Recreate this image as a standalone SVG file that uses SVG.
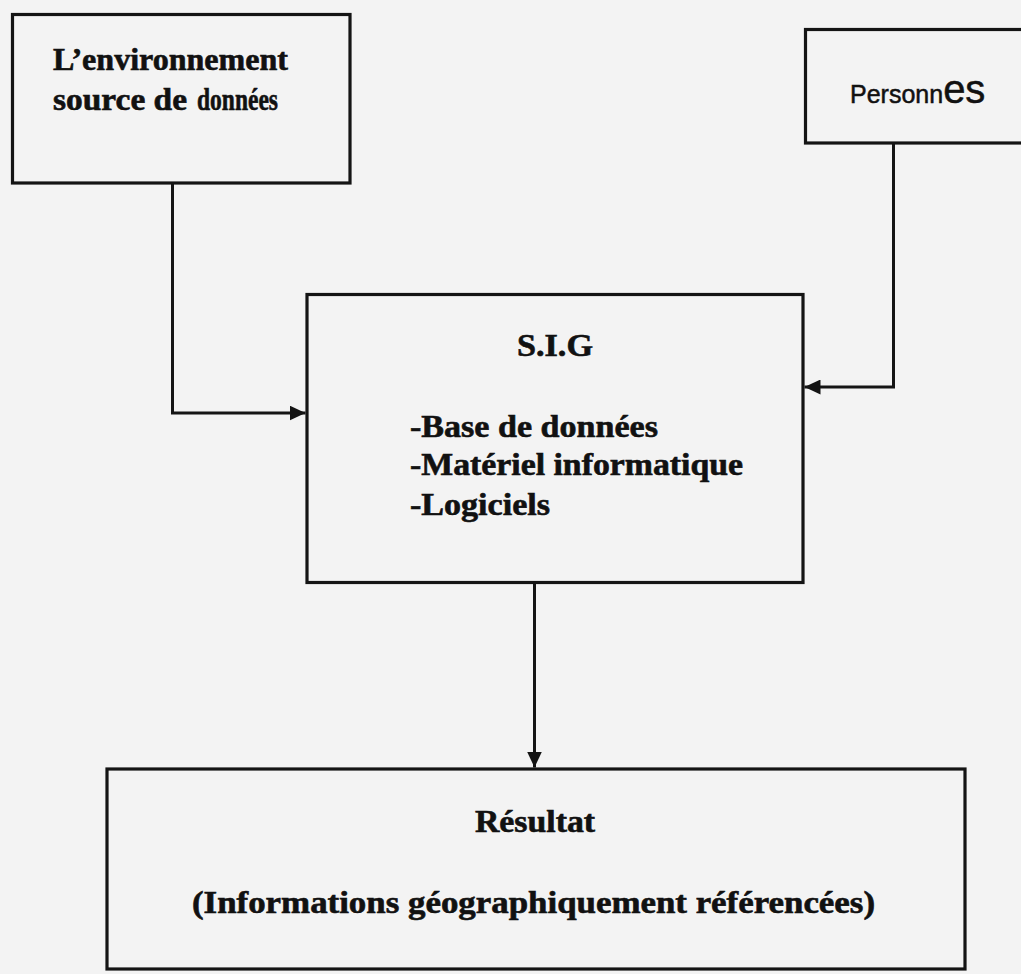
<svg xmlns="http://www.w3.org/2000/svg" width="1021" height="974" viewBox="0 0 1021 974">
  <style>
    .box { fill: none; stroke: #141414; stroke-width: 3.2; }
    .wire { fill: none; stroke: #141414; stroke-width: 3; }
    .serif { font-family: "Liberation Serif", "Times New Roman", serif; font-weight: bold; font-size: 31px; fill: #111; stroke: #111; stroke-width: 0.6; }
    .sans { font-family: "Liberation Sans", Arial, sans-serif; fill: #111; stroke: #111; stroke-width: 0.5; }
  </style>
  <defs>
    <marker id="arrow" markerUnits="userSpaceOnUse" markerWidth="17" markerHeight="15" refX="16" refY="7.5" orient="auto">
      <path d="M0,0 L16,7.5 L0,15 Z" fill="#141414"/>
    </marker>
  </defs>

  <!-- paper -->
  <rect x="0" y="0" width="1021" height="974" fill="#f3f3f3"/>

  <!-- data source environment -->
  <g id="node-environnement">
    <rect class="box" x="12.5" y="14.5" width="337.5" height="168.5"/>
    <text class="serif" x="53" y="70" textLength="235" lengthAdjust="spacingAndGlyphs">L’environnement</text>
    <text class="serif" x="53" y="110" textLength="134" lengthAdjust="spacingAndGlyphs">source de</text>
    <text class="serif" x="197" y="110" font-size="28" textLength="81" lengthAdjust="spacingAndGlyphs">données</text>
  </g>

  <!-- people -->
  <g id="node-personnes">
    <rect class="box" x="805.5" y="29.5" width="230" height="113.5"/>
    <text class="sans" x="850" y="103" font-size="25">Personn<tspan font-size="40">es</tspan></text>
  </g>

  <!-- GIS components -->
  <g id="node-sig">
    <rect class="box" x="307" y="294.5" width="496" height="288"/>
    <text class="serif" x="517" y="356" textLength="76" lengthAdjust="spacingAndGlyphs">S.I.G</text>
    <text class="serif" x="410" y="437" textLength="248" lengthAdjust="spacingAndGlyphs">-Base de données</text>
    <text class="serif" x="410" y="475" textLength="333" lengthAdjust="spacingAndGlyphs">-Matériel informatique</text>
    <text class="serif" x="410" y="515" textLength="140" lengthAdjust="spacingAndGlyphs">-Logiciels</text>
  </g>

  <!-- output -->
  <g id="node-resultat">
    <rect class="box" x="107" y="769" width="858" height="200"/>
    <text class="serif" x="475" y="832" textLength="120" lengthAdjust="spacingAndGlyphs">Résultat</text>
    <text class="serif" x="192" y="913" textLength="683" lengthAdjust="spacingAndGlyphs">(Informations géographiquement référencées)</text>
  </g>

  <!-- connectors -->
  <g id="connectors">
    <path class="wire" d="M172.5,183 V413 H305.5" marker-end="url(#arrow)"/>
    <path class="wire" d="M893.5,143 V387 H804.5" marker-end="url(#arrow)"/>
    <path class="wire" d="M534.5,582.5 V767.5" marker-end="url(#arrow)"/>
  </g>
</svg>
